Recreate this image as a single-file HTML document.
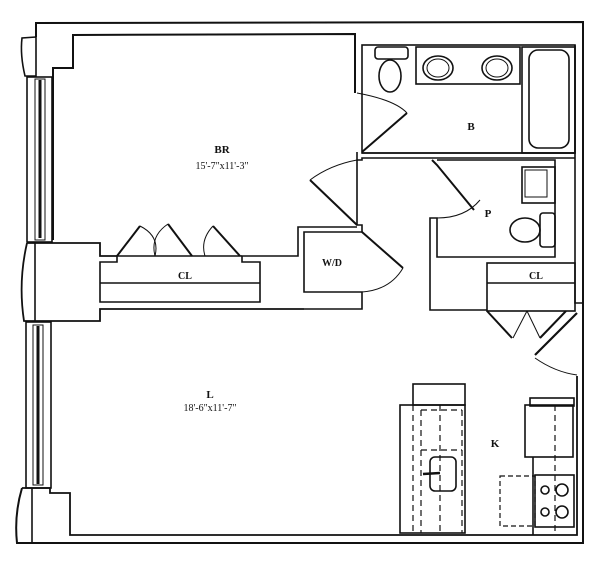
<!DOCTYPE html>
<html><head><style>html,body{margin:0;padding:0;background:#fff}svg{display:block}</style></head>
<body>
<svg width="600" height="571" viewBox="0 0 600 571" xmlns="http://www.w3.org/2000/svg" font-family="Liberation Serif, serif" fill="none" stroke="#111" stroke-width="1.6">
<polyline points="36,37 36,23 583,22 583,366" stroke-width="2"/>
<polyline points="53,240 53,68 73,68 73,35 355,34 355,93" stroke-width="2"/>
<path d="M36,37 L22,38 Q20,55 25,76 L36,76 Z"/>
<rect x="27" y="77" width="25" height="165"/>
<rect x="35" y="79" width="10" height="161" stroke-width="1"/>
<line x1="40" y1="80" x2="40" y2="238" stroke-width="3"/>
<path d="M27,243 L100,243 L100,256 L117,256 M27,243 Q18,282 24,321 L100,321 L100,309 L304,309" stroke-width="1.8"/>
<line x1="35" y1="243" x2="35" y2="321"/>
<rect x="26" y="322" width="25" height="166"/>
<rect x="33" y="325" width="10" height="160" stroke-width="1"/>
<line x1="38" y1="326" x2="38" y2="484" stroke-width="3"/>
<path d="M22,488 L50,488 L50,493 L70,493 L70,535 L577,535 L577,376" stroke-width="1.8"/>
<path d="M22,488 Q14,515 17,543 L583,543 L583,366" stroke-width="2"/>
<line x1="32" y1="488" x2="32" y2="543"/>
<polyline points="117,256 117,262 100,262 100,302 260,302 260,262 242,262 242,256 298,256 298,227 357,227"/>
<line x1="100" y1="283" x2="260" y2="283"/>
<line x1="117" y1="256" x2="242" y2="256"/>
<polyline points="117,256 140,226" stroke-width="2"/>
<path d="M140,226 Q160,236 155,256" stroke-width="1"/>
<polyline points="192,256 168,224" stroke-width="2"/>
<path d="M168,224 Q150,236 155,256" stroke-width="1"/>
<polyline points="240,256 213,226" stroke-width="2"/>
<path d="M213,226 Q200,240 205,256" stroke-width="1"/>
<path d="M357,93 Q395,100 407,113" stroke-width="1"/>
<line x1="407" y1="113" x2="362" y2="152" stroke-width="2"/>
<rect x="362" y="45" width="213" height="108"/>
<rect x="416" y="47" width="104" height="37"/>
<ellipse cx="438" cy="68" rx="15" ry="12"/><ellipse cx="438" cy="68" rx="11" ry="9" stroke-width="1"/>
<ellipse cx="497" cy="68" rx="15" ry="12"/><ellipse cx="497" cy="68" rx="11" ry="9" stroke-width="1"/>
<rect x="375" y="47" width="33" height="12" rx="3"/>
<ellipse cx="390" cy="76" rx="11" ry="16"/>
<rect x="522" y="47" width="53" height="106"/>
<rect x="529" y="50" width="40" height="98" rx="9"/>
<polyline points="357,152 357,160 362,160 362,158 575,158"/>
<line x1="362" y1="153" x2="575" y2="153"/>
<polyline points="357,160 357,225 362,225 362,232"/>
<line x1="357" y1="225" x2="310" y2="180" stroke-width="2"/>
<path d="M310,180 Q330,165 357,160" stroke-width="1"/>
<polyline points="362,232 304,232 304,292 362,292 362,309 304,309"/>
<line x1="362" y1="232" x2="403" y2="268" stroke-width="2"/>
<path d="M403,268 Q390,290 362,292" stroke-width="1"/>
<polyline points="432,160 437,165 474,210" stroke-width="2"/>
<path d="M480,200 Q465,218 437,218" stroke-width="1"/>
<polyline points="437,160 555,160 555,257 437,257 437,218 430,218 430,310 487,310"/>
<rect x="522" y="167" width="33" height="36"/>
<rect x="525" y="170" width="22" height="27" stroke-width="1"/>
<rect x="540" y="213" width="15" height="34" rx="3"/>
<ellipse cx="525" cy="230" rx="15" ry="12"/>
<rect x="487" y="263" width="88" height="48"/>
<line x1="487" y1="283" x2="575" y2="283"/>
<polyline points="575,45 575,303 583,303"/>
<polyline points="487,311 512,338" stroke-width="2"/>
<polyline points="527,311 513,338" stroke-width="1"/>
<polyline points="566,311 540,338" stroke-width="2"/>
<polyline points="527,311 540,338" stroke-width="1"/>
<line x1="577" y1="313" x2="535" y2="355" stroke-width="2.2"/>
<path d="M535,358 Q555,372 577,375" stroke-width="1"/>
<rect x="413" y="384" width="52" height="21"/>
<rect x="400" y="405" width="65" height="128"/>
<g stroke-dasharray="6,4" stroke-width="1.2">
<line x1="413" y1="405" x2="413" y2="533"/>
<line x1="421" y1="410" x2="421" y2="533"/>
<line x1="440" y1="405" x2="440" y2="533"/>
<line x1="421" y1="410" x2="462" y2="410"/>
<line x1="462" y1="410" x2="462" y2="533"/>
<line x1="421" y1="450" x2="462" y2="450"/>
</g>
<rect x="430" y="457" width="26" height="34" rx="5"/>
<line x1="423" y1="474" x2="440" y2="473" stroke-width="2.5"/>
<rect x="530" y="398" width="44" height="8"/>
<rect x="525" y="405" width="48" height="52"/>
<polyline points="533,457 533,535"/>
<rect x="535" y="475" width="39" height="52"/>
<rect x="500" y="476" width="35" height="50" stroke-dasharray="5,3" stroke-width="1.2"/>
<line x1="555" y1="405" x2="555" y2="533" stroke-dasharray="6,4" stroke-width="1.2"/>
<circle cx="545" cy="490" r="4"/><circle cx="562" cy="490" r="6"/>
<circle cx="545" cy="512" r="4"/><circle cx="562" cy="512" r="6"/>
<g fill="#111" stroke="none" text-anchor="middle">
<text x="222" y="153" font-size="11" font-weight="bold">BR</text>
<text x="222" y="169" font-size="10">15'-7"x11'-3"</text>
<text x="210" y="398" font-size="11" font-weight="bold">L</text>
<text x="210" y="411" font-size="10">18'-6"x11'-7"</text>
<text x="185" y="279" font-size="10" font-weight="bold">CL</text>
<text x="332" y="266" font-size="10" font-weight="bold">W/D</text>
<text x="471" y="130" font-size="11" font-weight="bold">B</text>
<text x="488" y="217" font-size="11" font-weight="bold">P</text>
<text x="536" y="279" font-size="10" font-weight="bold">CL</text>
<text x="495" y="447" font-size="11" font-weight="bold">K</text>
</g>
</svg>
</body></html>
